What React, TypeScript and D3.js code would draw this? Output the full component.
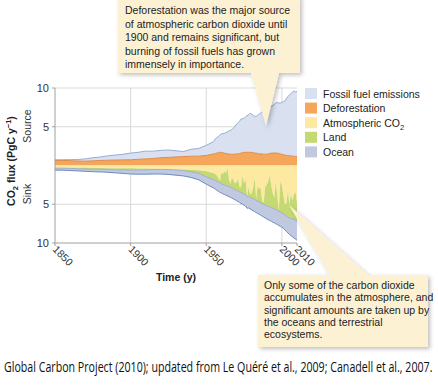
import React, { useEffect, useRef } from "react";
import * as d3 from "d3";

// years: every 5 years to 1955, then yearly
const years = [
  1850, 1855, 1860, 1865, 1870, 1875, 1880, 1885, 1890, 1895, 1900, 1905, 1910, 1915, 1920, 1925, 1930, 1935, 1940, 1945, 1950, 1955,
  1956, 1957, 1958, 1959, 1960, 1961, 1962, 1963, 1964, 1965, 1966, 1967, 1968, 1969, 1970, 1971, 1972, 1973, 1974, 1975,
  1976, 1977, 1978, 1979, 1980, 1981, 1982, 1983, 1984, 1985, 1986, 1987, 1988, 1989, 1990, 1991, 1992, 1993, 1994, 1995,
  1996, 1997, 1998, 1999, 2000, 2001, 2002, 2003, 2004, 2005, 2006, 2007, 2008, 2009, 2010,
];

// sources (PgC/y)
const fossil = [
  0.09, 0.09, 0.13, 0.2, 0.29, 0.4, 0.45, 0.57, 0.65, 0.73, 0.86, 0.9, 1.0, 0.95, 0.95, 0.95, 0.8, 0.65, 0.9, 1.0, 1.3, 1.6,
  1.9, 2.0, 2.1, 2.2, 2.4, 2.45, 2.55, 2.7, 2.85, 2.95, 3.1, 3.2, 3.4, 3.6, 3.85, 4.0, 4.15, 4.4, 4.4, 4.4,
  4.6, 4.75, 4.85, 5.05, 4.95, 4.8, 4.75, 4.75, 4.95, 5.1, 5.3, 5.45, 5.7, 5.85, 5.95, 6.1, 6.0, 6.05, 6.15, 6.3,
  6.45, 6.55, 6.5, 6.55, 6.7, 6.85, 6.95, 7.3, 7.6, 7.85, 8.05, 8.25, 8.45, 8.3, 8.4,
];
const deforestation = [
  0.65, 0.65, 0.62, 0.58, 0.56, 0.6, 0.65, 0.68, 0.7, 0.72, 0.74, 0.8, 0.85, 0.9, 1.0, 1.05, 1.1, 1.15, 1.2, 1.2, 1.3, 1.5,
  1.55, 1.6, 1.65, 1.7, 1.7, 1.65, 1.6, 1.55, 1.5, 1.5, 1.45, 1.45, 1.45, 1.45, 1.5, 1.5, 1.55, 1.6, 1.65, 1.7,
  1.7, 1.7, 1.7, 1.7, 1.7, 1.65, 1.6, 1.6, 1.55, 1.5, 1.5, 1.5, 1.45, 1.45, 1.45, 1.5, 1.55, 1.6, 1.6, 1.6,
  1.6, 1.6, 1.55, 1.5, 1.45, 1.4, 1.35, 1.3, 1.3, 1.25, 1.25, 1.2, 1.2, 1.17, 1.17,
];

// sinks (PgC/y, drawn below zero)
const atmospheric = [
  0.3, 0.3, 0.3, 0.3, 0.3, 0.32, 0.33, 0.34, 0.35, 0.35, 0.35, 0.38, 0.4, 0.42, 0.45, 0.47, 0.5, 0.5, 0.55, 0.6, 0.75, 1.0,
  1.1, 1.3, 1.6, 2.0, 0.9, 1.1, 0.7, 1.0, 0.3, 1.8, 2.4, 1.5, 1.9, 2.3, 2.2, 1.7, 2.8, 2.8, 1.3, 2.3,
  1.8, 4.0, 2.8, 3.7, 3.6, 2.9, 1.6, 4.3, 2.6, 3.0, 2.9, 4.7, 4.7, 2.7, 2.5, 2.0, 1.3, 2.6, 3.6, 4.2,
  2.1, 4.1, 5.8, 2.0, 2.6, 3.9, 5.0, 4.9, 3.3, 5.0, 3.7, 4.5, 3.7, 3.4, 4.8,
];
const land = [
  0.05, 0.05, 0.08, 0.12, 0.15, 0.16, 0.15, 0.15, 0.2, 0.22, 0.25, 0.22, 0.17, 0.1, 0.05, 0.05, 0.08, 0.15, 0.25, 0.4, 0.7, 0.82,
  0.81, 0.71, 0.51, 0.2, 1.45, 1.33, 1.79, 1.55, 2.32, 0.94, 0.41, 1.4, 1.1, 0.8, 0.99, 1.58, 0.59, 0.69, 2.28, 1.38,
  1.99, 0.05, 1.2, 0.4, 0.6, 1.4, 2.8, 0.2, 2.01, 1.7, 1.9, 0.2, 0.3, 2.4, 2.7, 3.28, 4.04, 2.82, 1.93, 1.41,
  3.62, 1.7, 0.1, 4.01, 3.53, 2.35, 1.38, 1.62, 3.36, 1.8, 3.15, 2.4, 3.25, 3.65, 2.35,
];
const ocean = [
  0.25, 0.25, 0.27, 0.28, 0.3, 0.32, 0.35, 0.38, 0.4, 0.45, 0.5, 0.52, 0.55, 0.58, 0.6, 0.63, 0.67, 0.7, 0.75, 0.85, 0.95, 1.1,
  1.15, 1.18, 1.22, 1.26, 1.2, 1.22, 1.25, 1.28, 1.3, 1.28, 1.3, 1.3, 1.3, 1.32, 1.35, 1.37, 1.38, 1.4, 1.42, 1.44,
  1.45, 1.47, 1.48, 1.5, 1.52, 1.54, 1.55, 1.57, 1.58, 1.6, 1.62, 1.64, 1.66, 1.68, 1.7, 1.72, 1.76, 1.78, 1.78, 1.8,
  1.8, 1.82, 1.84, 1.84, 1.84, 1.85, 1.92, 1.98, 2.04, 2.1, 2.2, 2.3, 2.4, 2.45, 2.5,
];

const xTicks = [1850, 1900, 1950, 2000, 2010];
const yTicks = [10, 5, -5, -10];

const legendItems = [
  { label: "Fossil fuel emissions", color: "#d9e1f1" },
  { label: "Deforestation", color: "#f5a65b" },
  { label: "Atmospheric CO", sub: "2", color: "#fde9a2" },
  { label: "Land", color: "#c5d973" },
  { label: "Ocean", color: "#c1c9e0" },
];

const topNote = [
  "Deforestation was the major source",
  "of atmospheric carbon dioxide until",
  "1900 and remains significant, but",
  "burning of fossil fuels has grown",
  "immensely in importance.",
];
const bottomNote = [
  "Only some of the carbon dioxide",
  "accumulates in the atmosphere, and",
  "significant amounts are taken up by",
  "the oceans and terrestrial",
  "ecosystems.",
];

const credit = "Global Carbon Project (2010); updated from Le Quéré et al., 2009; Canadell et al., 2007.";

const FONT = "'Liberation Sans', Arial, sans-serif";

const App: React.FC = () => {
  const svgRef = useRef<SVGSVGElement | null>(null);

  useEffect(() => {
    if (!svgRef.current) return;
    const svg = d3.select(svgRef.current);
    svg.selectAll("*").remove();

    const left = 55, right = 297, top = 88, bottom = 243;

    const x = d3.scaleLinear().domain([1850, 2010]).range([left, right]);
    const y = d3.scaleLinear().domain([-10, 10]).range([bottom, top]);

    const rows = years.map((yr, i) => ({
      year: yr,
      deforestation: deforestation[i],
      fossil: fossil[i],
      atmospheric: -atmospheric[i],
      land: -land[i],
      ocean: -ocean[i],
    }));

    const keys = ["deforestation", "fossil", "atmospheric", "land", "ocean"];
    const fills: Record<string, string> = {
      deforestation: "#f5a65b",
      fossil: "#d9e1f1",
      atmospheric: "#fde9a2",
      land: "#c5d973",
      ocean: "#c1c9e0",
    };

    const series = d3
      .stack<any>()
      .keys(keys)
      .offset(d3.stackOffsetDiverging)(rows);

    const defs = svg.append("defs");
    defs
      .append("filter")
      .attr("id", "shadow")
      .attr("x", "-10%")
      .attr("y", "-10%")
      .attr("width", "130%")
      .attr("height", "140%")
      .append("feDropShadow")
      .attr("dx", 2)
      .attr("dy", 2)
      .attr("stdDeviation", 2)
      .attr("flood-color", "#000")
      .attr("flood-opacity", 0.25);

    // grid
    const grid = svg.append("g");
    [10, 5, -5].forEach((v) => {
      grid
        .append("line")
        .attr("x1", left)
        .attr("x2", right)
        .attr("y1", y(v))
        .attr("y2", y(v))
        .attr("stroke", "#d9d9d9")
        .attr("stroke-width", 1);
    });
    [1900, 1950, 2000].forEach((v) => {
      grid
        .append("line")
        .attr("x1", x(v))
        .attr("x2", x(v))
        .attr("y1", top)
        .attr("y2", bottom)
        .attr("stroke", "#d9d9d9")
        .attr("stroke-width", 1);
    });

    const area = d3
      .area<any>()
      .x((d) => x(d.data.year))
      .y0((d) => y(d[0]))
      .y1((d) => y(d[1]));

    svg
      .append("g")
      .selectAll("path")
      .data(series)
      .enter()
      .append("path")
      .attr("d", area)
      .attr("fill", (d) => fills[d.key]);

    // edge lines
    const edge = (key: string, idx: 0 | 1, color: string, w: number) => {
      const s = series.find((d) => d.key === key)!;
      const line = d3
        .line<any>()
        .x((d) => x(d.data.year))
        .y((d) => y(d[idx]));
      svg
        .append("path")
        .attr("d", line(s as any))
        .attr("fill", "none")
        .attr("stroke", color)
        .attr("stroke-width", w);
    };
    edge("fossil", 1, "#98acd4", 1);
    edge("deforestation", 1, "#de8a48", 1);
    edge("ocean", 1, "#93a6cc", 0.8);
    edge("ocean", 0, "#6c8bc1", 1);

    // axes
    svg
      .append("line")
      .attr("x1", left)
      .attr("x2", left)
      .attr("y1", top)
      .attr("y2", bottom)
      .attr("stroke", "#a0a0a0");
    svg
      .append("line")
      .attr("x1", left)
      .attr("x2", right)
      .attr("y1", bottom)
      .attr("y2", bottom)
      .attr("stroke", "#a0a0a0");

    yTicks.forEach((v) => {
      svg
        .append("line")
        .attr("x1", left - 3)
        .attr("x2", left)
        .attr("y1", y(v))
        .attr("y2", y(v))
        .attr("stroke", "#a0a0a0");
      svg
        .append("text")
        .attr("x", left - 6)
        .attr("y", y(v) + 4)
        .attr("text-anchor", "end")
        .attr("font-family", FONT)
        .attr("font-size", 11)
        .attr("fill", "#333")
        .text(Math.abs(v));
    });

    xTicks.forEach((v) => {
      svg
        .append("line")
        .attr("x1", x(v))
        .attr("x2", x(v))
        .attr("y1", bottom)
        .attr("y2", bottom + 3)
        .attr("stroke", "#a0a0a0");
      svg
        .append("text")
        .attr("transform", `translate(${x(v) - 3},${bottom + 7}) rotate(45)`)
        .attr("font-family", FONT)
        .attr("font-size", 10.5)
        .attr("fill", "#333")
        .text(v);
    });

    svg
      .append("text")
      .attr("x", 176)
      .attr("y", 281)
      .attr("text-anchor", "middle")
      .attr("font-family", FONT)
      .attr("font-size", 10.5)
      .attr("font-weight", "bold")
      .attr("fill", "#222")
      .text("Time (y)");

    // y title
    const yt = svg
      .append("text")
      .attr("transform", `translate(15,161) rotate(-90)`)
      .attr("text-anchor", "middle")
      .attr("font-family", FONT)
      .attr("font-size", 10.5)
      .attr("font-weight", "bold")
      .attr("fill", "#222");
    yt.append("tspan").text("CO");
    yt.append("tspan").attr("font-size", 7.5).attr("dy", 3).text("2");
    yt.append("tspan").attr("dy", -3).text(" flux (PgC y");
    yt.append("tspan").attr("font-size", 7.5).attr("dy", -4).text("−1");
    yt.append("tspan").attr("dy", 4).text(")");

    svg
      .append("text")
      .attr("transform", `translate(31,126) rotate(-90)`)
      .attr("text-anchor", "middle")
      .attr("font-family", FONT)
      .attr("font-size", 10.5)
      .attr("fill", "#333")
      .text("Source");
    svg
      .append("text")
      .attr("transform", `translate(31,194) rotate(-90)`)
      .attr("text-anchor", "middle")
      .attr("font-family", FONT)
      .attr("font-size", 10.5)
      .attr("fill", "#333")
      .text("Sink");

    // legend
    const lg = svg.append("g").attr("transform", "translate(305,88)");
    legendItems.forEach((d, i) => {
      const row = lg.append("g").attr("transform", `translate(0,${i * 14.6})`);
      row.append("rect").attr("width", 12).attr("height", 11).attr("fill", d.color);
      const t = row
        .append("text")
        .attr("x", 18)
        .attr("y", 9.5)
        .attr("font-family", FONT)
        .attr("font-size", 10.5)
        .attr("fill", "#222");
      t.append("tspan").text(d.label);
      if (d.sub) t.append("tspan").attr("font-size", 7.5).attr("dy", 3).text(d.sub);
    });

    // callouts
    const cream = "#fdf1d3";
    svg
      .append("path")
      .attr("d", "M118,-4 H300 V73 H279 L266,126 L251,73 H118 Z")
      .attr("fill", cream)
      .attr("filter", "url(#shadow)");
    topNote.forEach((s, i) => {
      svg
        .append("text")
        .attr("x", 125)
        .attr("y", 14 + i * 13.5)
        .attr("font-family", FONT)
        .attr("font-size", 10.5)
        .attr("fill", "#222")
        .text(s);
    });

    svg
      .append("path")
      .attr("d", "M258,275 H330 L289,205 L368,275 H428 V347 H258 Z")
      .attr("fill", cream)
      .attr("filter", "url(#shadow)");
    bottomNote.forEach((s, i) => {
      svg
        .append("text")
        .attr("x", 264)
        .attr("y", 289 + i * 12.3)
        .attr("font-family", FONT)
        .attr("font-size", 10.5)
        .attr("fill", "#222")
        .text(s);
    });

    // credit line, squeezed horizontally to fit the width
    const cr = svg
      .append("text")
      .attr("font-family", "'Open Sans', sans-serif")
      .attr("font-size", 14)
      .attr("fill", "#111")
      .text(credit);
    const natural = (cr.node() as SVGTextElement).getComputedTextLength() || 600;
    const k = 429 / natural;
    cr.attr("transform", `translate(4,372) scale(${k},1)`);
  }, []);

  return (
    <svg
      ref={svgRef}
      width={438}
      height={386}
      style={{ position: "absolute", left: 0, top: 0, background: "#fff" }}
    ></svg>
  );
};

export default App;
